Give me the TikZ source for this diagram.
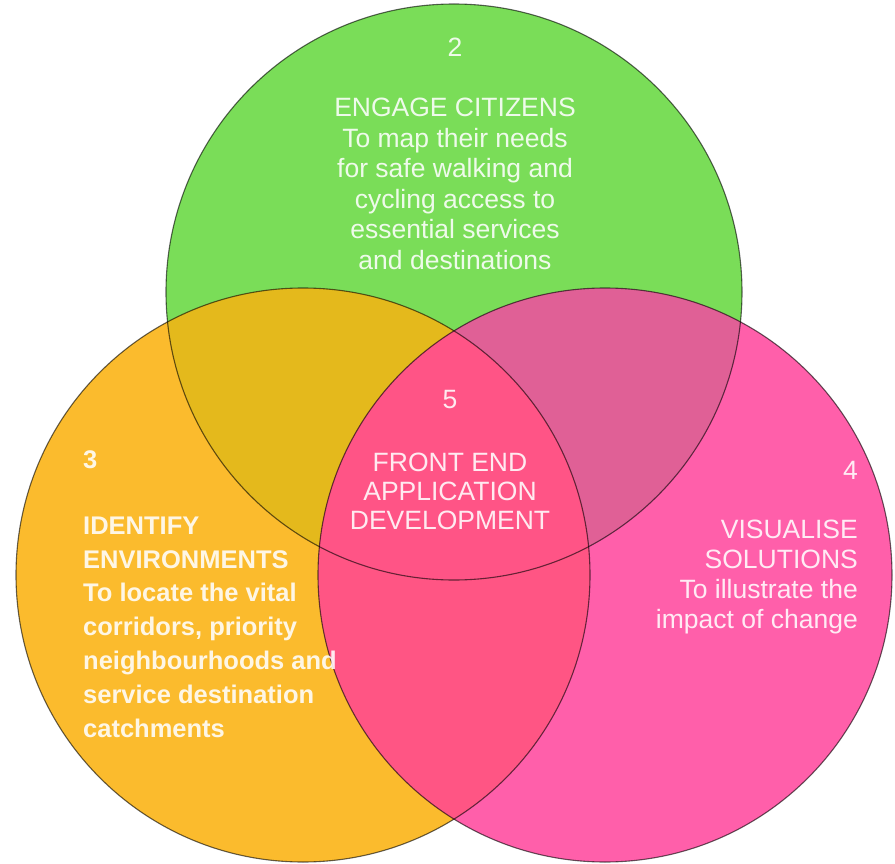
\documentclass[tikz,border=0pt]{standalone}
\usepackage{fontspec}
\setmainfont{Liberation Sans}
\definecolor{cgreen}{HTML}{7ADD58}
\definecolor{corange}{HTML}{FBBB2D}
\definecolor{cpink}{HTML}{FF5FAA}
\definecolor{cgo}{HTML}{E4B91C}
\definecolor{cgp}{HTML}{E06096}
\definecolor{cop}{HTML}{FF5584}
\definecolor{call}{HTML}{FF5486}
\tikzset{
  lbl/.style={text=white, text opacity=0.88, inner sep=0pt,
    font=\fontsize{26.5}{30.5}\selectfont},
  edge/.style={draw=black, draw opacity=0.6, line width=1.1pt}
}
\begin{document}
\begin{tikzpicture}[x=1pt,y=-1pt]
\useasboundingbox (0,0) rectangle (895,864);
\fill[white] (0,0) rectangle (895,864);
% base discs
\fill[cgreen] (454,292) circle[radius=288pt];
\fill[corange] (303,575) circle[radius=287pt];
\fill[cpink] (605,575) circle[radius=287pt];
% overlaps
\begin{scope}
  \clip (454,292) circle[radius=288pt];
  \fill[cgo] (303,575) circle[radius=287pt];
  \fill[cgp] (605,575) circle[radius=287pt];
\end{scope}
\begin{scope}
  \clip (303,575) circle[radius=287pt];
  \fill[cop] (605,575) circle[radius=287pt];
\end{scope}
\begin{scope}
  \clip (454,292) circle[radius=288pt];
  \clip (303,575) circle[radius=287pt];
  \fill[call] (605,575) circle[radius=287pt];
\end{scope}
% outlines
\draw[edge] (454,292) circle[radius=288pt];
\draw[edge] (303,575) circle[radius=287pt];
\draw[edge] (605,575) circle[radius=287pt];
% texts
\node[lbl] (n2) at (455,47) {2};
\node[lbl, align=center] (t2) at (455,184)
  {ENGAGE CITIZENS\\To map their needs\\for safe walking and\\cycling access to\\essential services\\and destinations};
\node[lbl, anchor=west, font=\fontsize{25.5}{30.5}\selectfont\bfseries] (n3) at (83,460) {3};
\node[lbl, anchor=west, align=left, font=\fontsize{25.5}{33.8}\selectfont\bfseries] (t3) at (83,627)
  {IDENTIFY\\ENVIRONMENTS\\To locate the vital\\corridors, priority\\neighbourhoods and\\service destination\\catchments};
\node[lbl, anchor=east] (n4) at (858,470) {4};
\node[lbl, anchor=east, align=right, font=\fontsize{26.5}{30}\selectfont] (t4) at (858,577)
  {VISUALISE\\SOLUTIONS\\To illustrate the\\impact of change};
\node[lbl] (n5) at (450,400) {5};
\node[lbl, align=center, font=\fontsize{26.5}{29}\selectfont] (t5) at (450,491)
  {FRONT END\\APPLICATION\\DEVELOPMENT};
\end{tikzpicture}
\end{document}
